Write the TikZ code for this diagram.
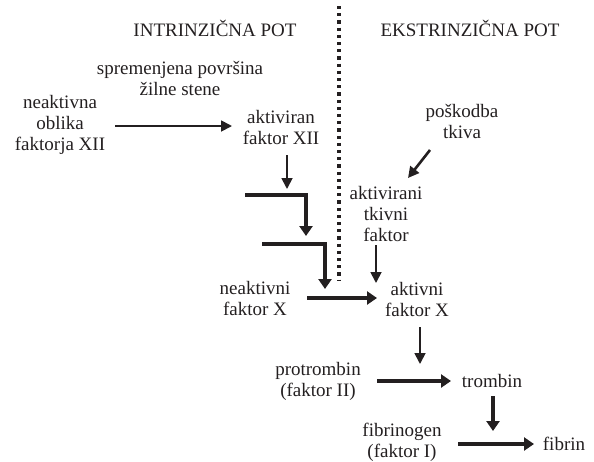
\documentclass[tikz,border=0pt]{standalone}
\usepackage{fontspec}
\setmainfont{Liberation Serif}
\usetikzlibrary{arrows.meta}
\definecolor{ink}{HTML}{231F20}
\begin{document}
\begin{tikzpicture}[x=1pt, y=-1pt, font=\fontsize{19}{21}\selectfont, every node/.style={align=center, text=ink, inner sep=1pt},
    thinarrow/.style={draw=ink, line width=1.8pt, -{Triangle[length=11pt, width=11pt]}},
    thickarrow/.style={draw=ink, line width=3.6pt, -{Triangle[length=10pt, width=13pt]}},
    dotline/.style={draw=ink, line width=3.2pt, dash pattern=on 3.2pt off 4pt}]
    \useasboundingbox (0,0) rectangle (594,461);

    % headings and separator
    \node (intr) at (215,28) {INTRINZIČNA POT};
    \node (ekstr) at (470,28) {EKSTRINZIČNA POT};
    \draw[dotline] (339,6) -- (339,280);

    % intrinsic pathway
    \node (sprem) at (180,78) {spremenjena površina\\žilne stene};
    \node (neakXII) at (60,125) {neaktivna\\oblika\\faktorja XII};
    \node (aktXII) at (281,127) {aktiviran\\faktor XII};
    \node (neakX) at (255,298) {neaktivni\\faktor X};

    % extrinsic pathway
    \node (posk) at (462,121) {poškodba\\tkiva};
    \node (tkfak) at (386,214) {aktivirani\\tkivni\\faktor};
    \node (aktX) at (417,299) {aktivni\\faktor X};

    % common pathway
    \node (protr) at (318,381) {protrombin\\(faktor II)};
    \node (tromb) at (492,381) {trombin};
    \node (fibrg) at (402,442) {fibrinogen\\(faktor I)};
    \node (fibrin) at (564,444) {fibrin};

    % bent steps
    \coordinate (b1s) at (245,195);
    \coordinate (b1c) at (306,195);
    \coordinate (b1e) at (306,236);
    \coordinate (b2s) at (262,244);
    \coordinate (b2c) at (325,244);
    \coordinate (b2e) at (325,289);
    \coordinate (xdown) at (420,364);
    \coordinate (tdown) at (493,431);

    \draw[thinarrow] (115,126) -- (232,126);
    \draw[thinarrow] (287,155) -- (287,189);
    \draw[thickarrow] (b1s) -- (b1c) -- (b1e);
    \draw[thickarrow] (b2s) -- (b2c) -- (b2e);
    \draw[thickarrow] (307,298) -- (377,298);
    \draw[thinarrow, line width=2.6pt] (430,150) -- (408,178);
    \draw[thinarrow] (376,245) -- (376,283);
    \draw[thinarrow] (420,327) -- (xdown);
    \draw[thickarrow] (377,381) -- (451,381);
    \draw[thickarrow] (493,396) -- (tdown);
    \draw[thickarrow] (458,444) -- (534,444);
\end{tikzpicture}
\end{document}
